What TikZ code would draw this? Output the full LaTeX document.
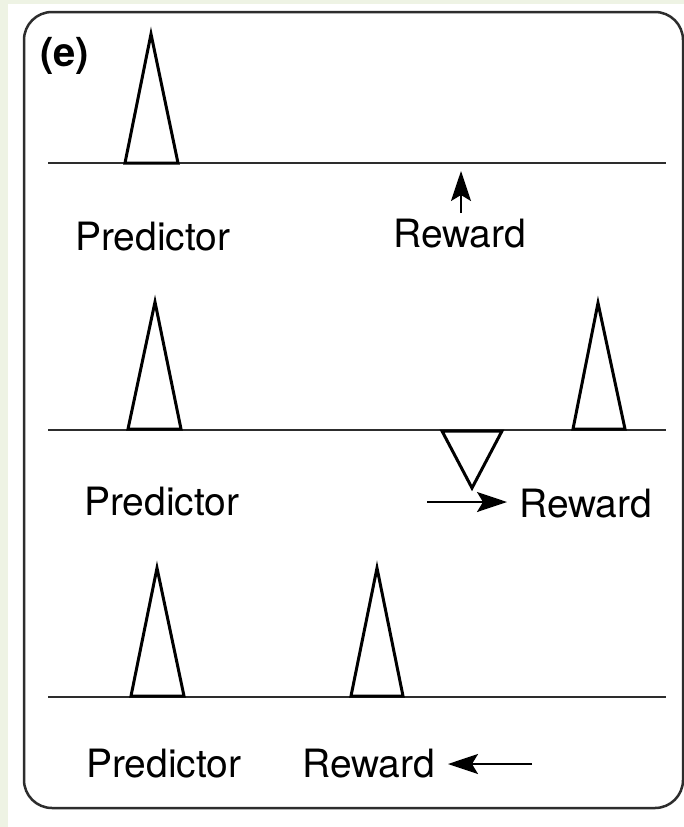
\documentclass[tikz,border=0pt]{standalone}
\usepackage{fontspec}
\setmainfont{TeX Gyre Heros}
\usetikzlibrary{arrows.meta}
\definecolor{paper}{RGB}{238,243,228}
\definecolor{rulegray}{RGB}{45,45,45}
\tikzset{
  cuehead/.tip={Stealth[length=30pt, width=20pt, inset=6pt]},
}
\begin{document}
\begin{tikzpicture}[x=1pt,y=-1pt,
  lbl/.style={font=\fontsize{39}{39}\selectfont, inner sep=0pt, anchor=base west},
  spike/.style={line width=3pt, line join=miter, black},
  axisline/.style={line width=2pt, rulegray},
  cue/.style={line width=2.2pt, black, -cuehead}]
% page and frame
\fill[white] (0,0) rectangle (684,827);
\fill[paper] (0,0) rectangle (8,827);
\fill[paper] (0,0) rectangle (684,4);
\useasboundingbox (0,0) rectangle (684,827);
\draw[line width=2.5pt, rulegray, rounded corners=28pt] (24,12) rectangle (683,808);
\node[lbl, font=\fontsize{40}{40}\selectfont\bfseries] (tag) at (40,66) {(e)};

% first trace: predictor spike, reward expected
\draw[axisline] (48,163) -- (666,163);
\draw[spike] (125,163) -- (151,34) -- (178,163) -- cycle;
\node[lbl] (pred1) at (75,250) {Predictor};
\node[lbl] (rew1) at (393,247) {Reward};
\coordinate (up1tail) at (461,213);
\coordinate (up1tip) at (461,171);
\draw[cue] (up1tail) -- (up1tip);

% second trace: reward delayed, dip at expected time
\draw[axisline] (48,430) -- (666,430);
\draw[spike] (128,429) -- (155,302) -- (181,429) -- cycle;
\draw[spike] (573,429) -- (598,303) -- (625,429) -- cycle;
\draw[spike] (442,431) -- (472,488) -- (502,431) -- cycle;
\node[lbl] (pred2) at (84,515) {Predictor};
\node[lbl] (rew2) at (519,517) {Reward};
\coordinate (rt2tail) at (427,502);
\coordinate (rt2tip) at (507,502);
\draw[cue] (rt2tail) -- (rt2tip);

% third trace: reward early
\draw[axisline] (48,697) -- (666,697);
\draw[spike] (131,696) -- (157,568) -- (184,696) -- cycle;
\draw[spike] (351,696) -- (377,568) -- (403,696) -- cycle;
\node[lbl] (pred3) at (86,777) {Predictor};
\node[lbl] (rew3) at (302,777) {Reward};
\coordinate (lt3tail) at (532,764);
\coordinate (lt3tip) at (448,764);
\draw[cue] (lt3tail) -- (lt3tip);
\end{tikzpicture}
\end{document}
